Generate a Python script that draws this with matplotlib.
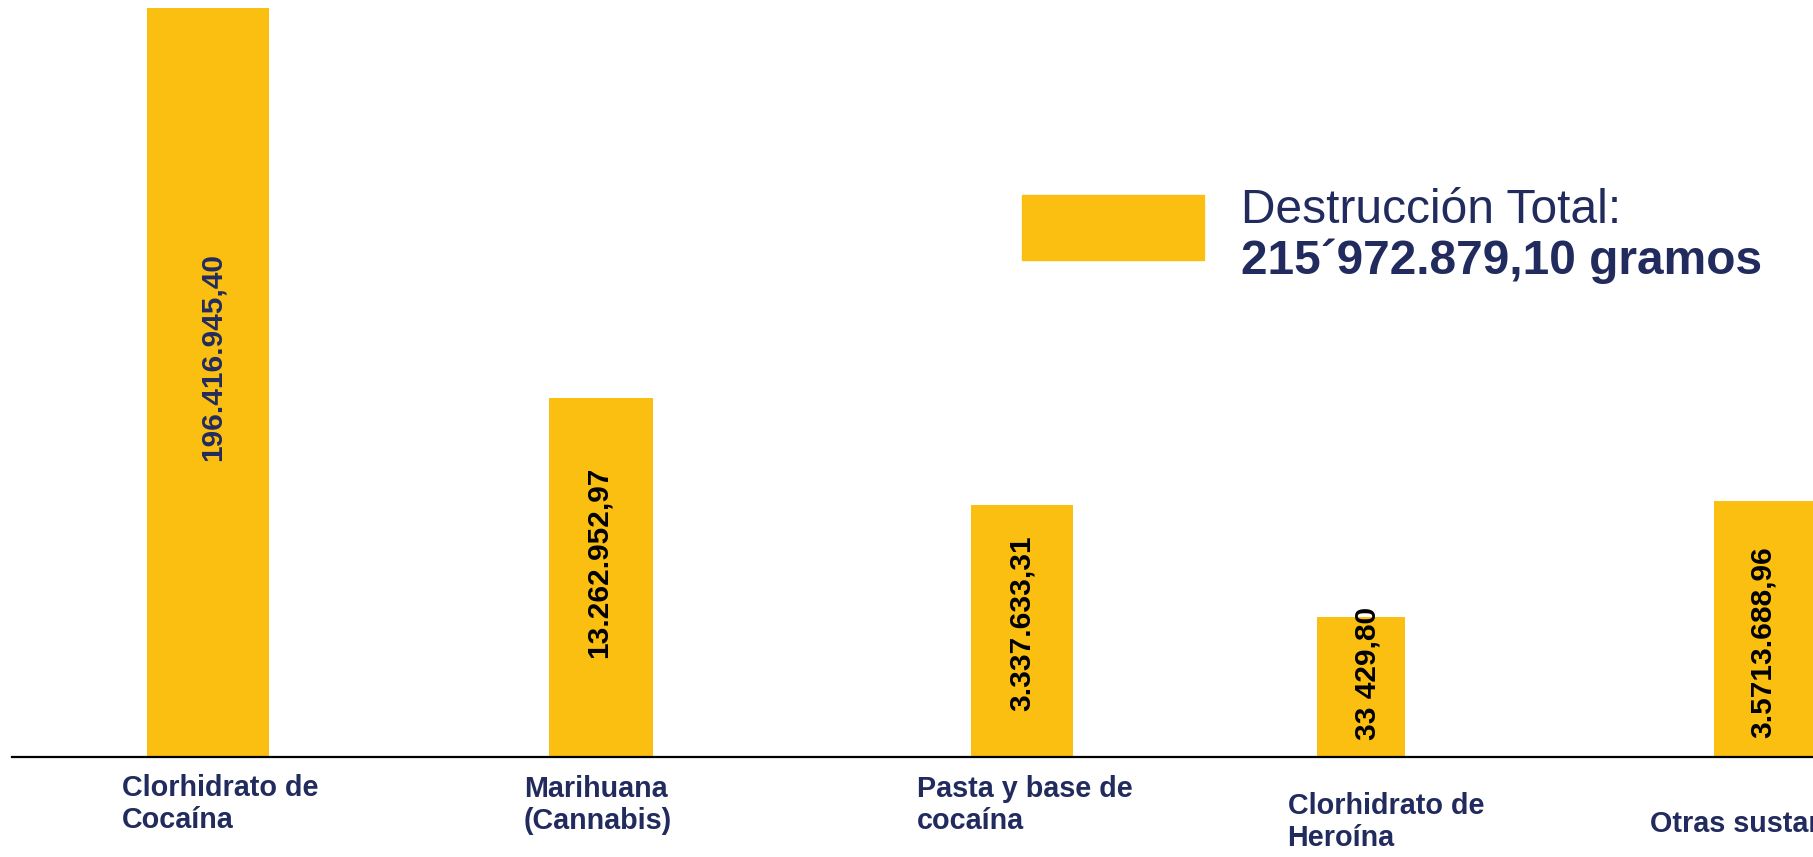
import matplotlib
matplotlib.use("Agg")
import matplotlib.pyplot as plt
from matplotlib.patches import Rectangle

plt.rcParams['font.family'] = ['Liberation Sans', 'DejaVu Sans']

# ---- data ----
categories = ["Clorhidrato de\nCocaína", "Marihuana\n(Cannabis)", "Pasta y base de\ncocaína",
              "Clorhidrato de\nHeroína", "Otras sustancias"]
value_labels = ["196.416.945,40", "13.262.952,97", "3.337.633,31", "33 429,80", "3.5713.688,96"]
# bar heights as drawn (relative, tallest = 100) -- the original chart is not to scale
bar_heights = [100, 47.9, 33.6, 18.7, 34.2]
legend_line1 = "Destrucción Total:"
legend_line2 = "215´972.879,10 gramos"

# ---- layout / style ----
YELLOW = "#FBBF12"
NAVY = "#222B5E"
x_shift = [0.0, 0.009, 0.09, -0.04, 0.0]
widths = [0.313, 0.267, 0.262, 0.226, 0.267]
label_pos = [53.4, 26.0, 17.9, 11.1, 15.4]
label_dx = [0.012, -0.005, 0.0, 0.018, -0.008]
label_colors = [NAVY, "black", "black", "black", "black"]
cat_dx = [9, -2, 2, 18, 0]        # points
cat_dy = [12, 13, 13, 25, 38]     # points below axis

fig = plt.figure(figsize=(18.13, 8.57), dpi=100)
ax = fig.add_axes([12 / 1813, 100 / 857, 1 - 12 / 1813, 757 / 857])

xs = [i + s for i, s in enumerate(x_shift)]
ax.bar(xs, bar_heights, width=widths, color=YELLOW, zorder=2)

for x, dx, y, t, c in zip(xs, label_dx, label_pos, value_labels, label_colors):
    ax.text(x + dx, y, t, rotation=90, ha='center', va='center', fontsize=21.5,
            fontweight='bold', color=c, zorder=3)

for x, t, dx, dy in zip(xs, categories, cat_dx, cat_dy):
    ax.annotate(t, xy=(x, 0), xycoords=('data', 'axes fraction'),
                xytext=(dx, -dy), textcoords='offset points',
                ha='center', va='top', multialignment='left',
                fontsize=20.7, fontweight='bold', color=NAVY, annotation_clip=False)

ax.set_xlim(-0.503, 4.121)
ax.set_ylim(0, 101.07)
for s in ['top', 'right', 'left']:
    ax.spines[s].set_visible(False)
ax.spines['bottom'].set_linewidth(1.6)
ax.spines['bottom'].set_color('black')
ax.spines['bottom'].set_zorder(4)
ax.set_xticks([])
ax.set_yticks([])

# legend-like annotation
fig.patches.append(Rectangle((1022 / 1813, (857 - 260) / 857), 182 / 1813, 65 / 857,
                             transform=fig.transFigure, color=YELLOW, zorder=1))
fig.text(1241 / 1813, (857 - 223) / 857, legend_line1, fontsize=34.5, color=NAVY,
         ha='left', va='baseline')
fig.text(1241 / 1813, (857 - 274) / 857, legend_line2, fontsize=34.5, color=NAVY,
         fontweight='bold', ha='left', va='baseline')

fig.savefig("out.png", dpi=100)
